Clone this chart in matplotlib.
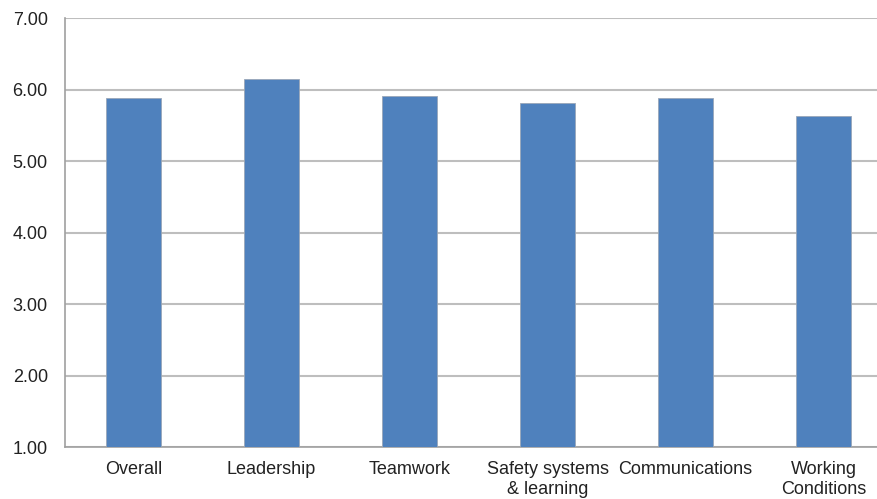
import matplotlib.pyplot as plt

plt.rcParams['font.family'] = ['Liberation Sans', 'DejaVu Sans']

categories = ['Overall', 'Leadership', 'Teamwork', 'Safety systems\n& learning',
              'Communications', 'Working\nConditions']
scores = [5.89, 6.15, 5.92, 5.81, 5.89, 5.64]
yticks = [1, 2, 3, 4, 5, 6, 7]

fig = plt.figure(figsize=(8.78, 4.99), dpi=100)
ax = fig.add_axes([0.0735, 0.1036, 0.943, 0.8597])

x = range(len(categories))
ax.bar(x, [s - 1 for s in scores], bottom=1, width=0.4, color='#4F81BD',
       edgecolor='#9AA7B8', linewidth=0.6, zorder=3)

ax.set_ylim(1, 7)
ax.set_xlim(-0.5, len(categories) - 0.5)
ax.set_yticks(yticks)
ax.set_yticklabels(['%.2f' % v for v in yticks])
ax.set_xticks(list(x))
ax.set_xticklabels(categories, linespacing=1.25)
ax.yaxis.grid(True, color='#BEBEBE', linewidth=1.5, zorder=0)
ax.tick_params(axis='both', length=0, labelsize=13, colors='#222222')
ax.tick_params(axis='y', pad=12)
ax.tick_params(axis='x', pad=10)

for side in ['top', 'right']:
    ax.spines[side].set_visible(False)
for side in ['left', 'bottom']:
    ax.spines[side].set_color('#A0A0A0')
    ax.spines[side].set_linewidth(1.2)

fig.savefig('out.png', dpi=100)
